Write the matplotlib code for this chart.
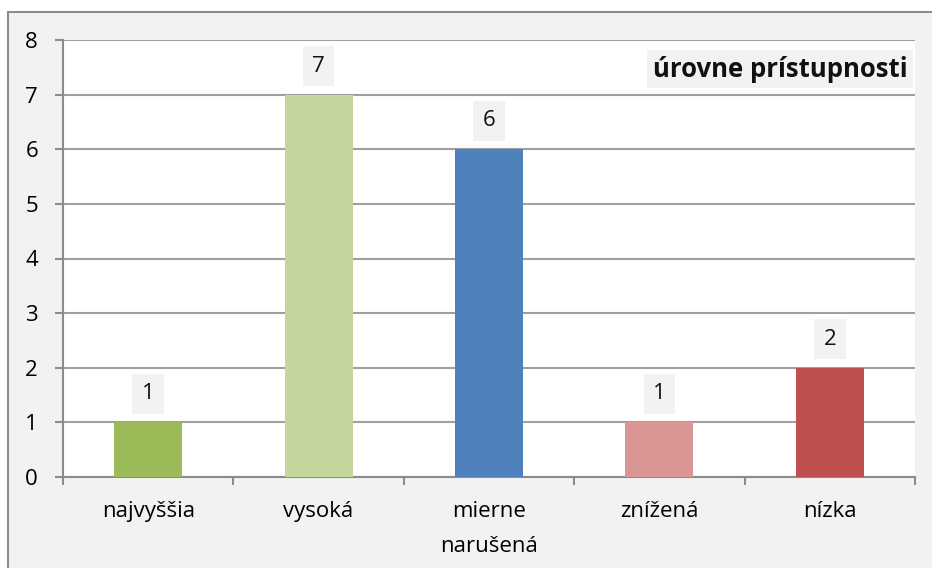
import matplotlib
matplotlib.use("Agg")
import matplotlib.pyplot as plt
from matplotlib.patches import Rectangle

categories = ["najvyššia", "vysoká", "mierne\nnarušená", "znížená", "nízka"]
values = [1, 7, 6, 1, 2]
colors = ["#9BBB59", "#C3D69B", "#4F81BD", "#D99694", "#C0504D"]
title = "úrovne prístupnosti"
yticks = [0, 1, 2, 3, 4, 5, 6, 7, 8]

plt.rcParams['font.family'] = ['Open Sans', 'DejaVu Sans']

W, H = 932, 568
fig = plt.figure(figsize=(W / 100, H / 100), dpi=100, facecolor="white")

# chart area background with border (extends past right/bottom edges)
bg = Rectangle((8 / W, -0.1), 1.2, 1 - 12 / H + 0.1, transform=fig.transFigure,
               facecolor="#F2F2F2", edgecolor="#8C8C8C", linewidth=1.5, zorder=-10)
fig.patches.append(bg)

ax = fig.add_axes([63 / W, 1 - 477 / H, (915 - 63) / W, (477 - 40) / H])
ax.set_zorder(1)
ax.set_facecolor("white")

x = list(range(len(categories)))
bars = ax.bar(x, values, width=0.4, color=colors, zorder=3)

ax.set_xlim(-0.5, len(categories) - 0.5)
ax.set_ylim(0, 8)
ax.set_yticks(yticks)
ax.set_yticklabels([str(t) for t in yticks], fontsize=16)
ax.yaxis.grid(True, color="#A0A0A0", linewidth=1.5, zorder=1)
ax.set_axisbelow(True)

ax.set_xticks([i - 0.5 for i in range(len(categories) + 1)])
ax.set_xticklabels([])
ax.set_xticks(x, minor=True)
ax.set_xticklabels(categories, minor=True, fontsize=16, linespacing=1.9)
ax.tick_params(axis="x", which="minor", length=0, pad=17)
ax.tick_params(axis="x", which="major", length=6, width=1.5, color="#8C8C8C", direction="out")
ax.tick_params(axis="y", length=6, width=1.5, color="#8C8C8C", direction="out", pad=12)

for s in ["top", "right"]:
    ax.spines[s].set_visible(False)
for s in ["left", "bottom"]:
    ax.spines[s].set_color("#8C8C8C")
    ax.spines[s].set_linewidth(1.5)

for xi, v in zip(x, values):
    ax.annotate(str(v), (xi, v), xytext=(0, 20.5), textcoords="offset points",
                ha="center", va="center", fontsize=16, color="#111111",
                bbox=dict(boxstyle="square,pad=0.42", facecolor="#F2F2F2", edgecolor="none"),
                zorder=4)

ax.text(0.991, 0.933, title, transform=ax.transAxes, ha="right", va="center",
        fontsize=18.5, fontweight="bold", color="#111111",
        bbox=dict(boxstyle="square,pad=0.22", facecolor="#F2F2F2", edgecolor="none"),
        zorder=5)

fig.savefig("out.png", dpi=100, facecolor="white")
